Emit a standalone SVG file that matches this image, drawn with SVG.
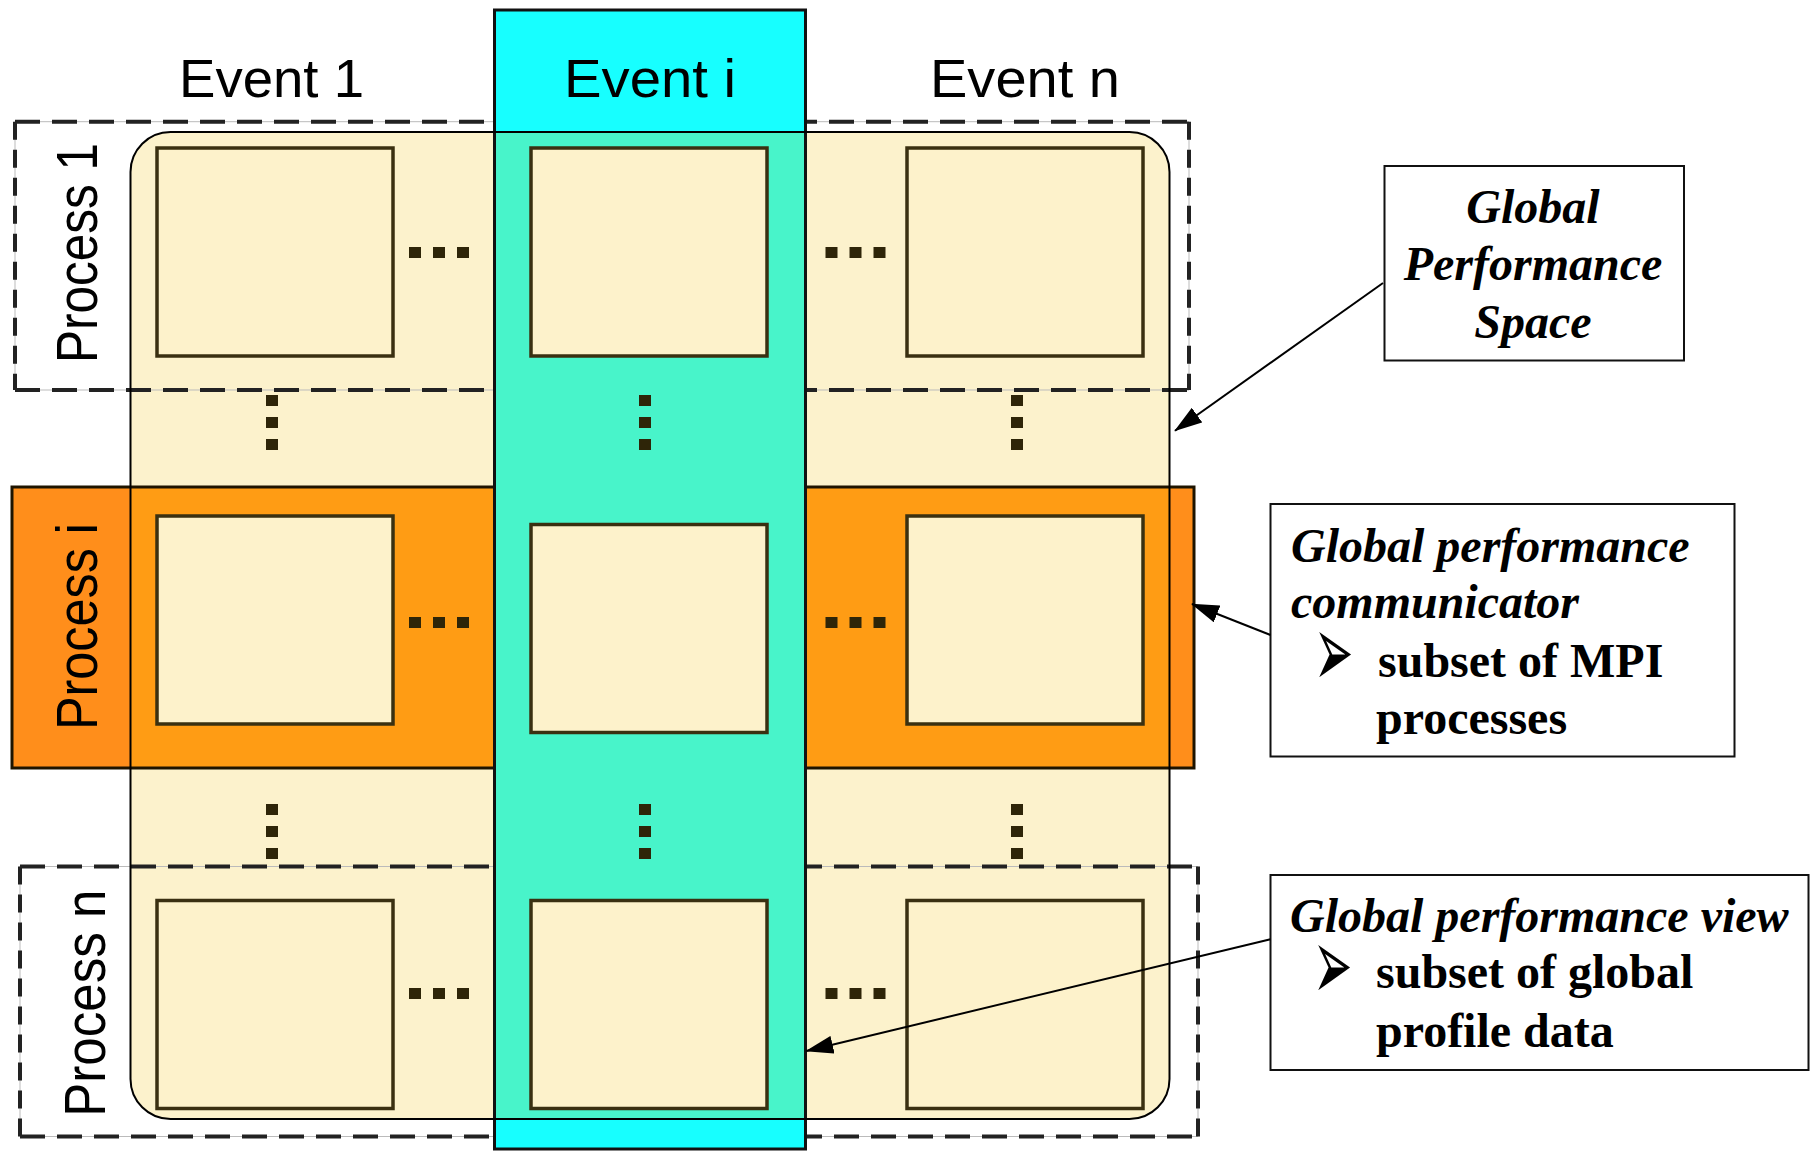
<svg xmlns="http://www.w3.org/2000/svg" width="1812" height="1151" viewBox="0 0 1812 1151">
<style>
.cell{fill:#FDF2CB;stroke:#3A3011;stroke-width:3.5}
.dot{fill:#2E2508}
.dash-h{stroke:#222;stroke-width:4;stroke-dasharray:25 12;fill:none}
.dash-v{stroke:#222;stroke-width:4;stroke-dasharray:18 10;fill:none}
.faint{stroke:#bbb;stroke-width:1;fill:none}
.lbl{font-family:"Liberation Sans",Arial,sans-serif;font-size:53px;fill:#000}
.plbl{font-family:"Liberation Sans",Arial,sans-serif;font-size:58px;fill:#000}
.note{fill:#fff;stroke:#111;stroke-width:2}
.bi{font-family:"Liberation Serif","Times New Roman",serif;font-size:48px;font-weight:bold;font-style:italic;fill:#000}
.b{font-family:"Liberation Serif","Times New Roman",serif;font-size:48px;font-weight:bold;fill:#000}
.bul{font-family:"DejaVu Sans",sans-serif;font-size:47px;fill:#000}
.conn{stroke:#000;stroke-width:2;fill:none;marker-end:url(#ah)}
</style>
<defs>
<clipPath id="space"><rect x="130.5" y="132" width="1039" height="987" rx="40"/></clipPath>
<marker id="ah" markerUnits="userSpaceOnUse" markerWidth="28" markerHeight="18" refX="27" refY="9" orient="auto"><path d="M0,0 L28,9 L0,18 z" fill="#000"/></marker>
</defs>

<g id="global-space-bg">
<rect x="130.5" y="132" width="1039" height="987" rx="40" fill="#FCF2CC"/>
</g>

<g id="process-i">
<rect x="12" y="487" width="1182" height="281" fill="#FF8E1B"/>
<rect x="12" y="487" width="1182" height="281" fill="#FF9C14" clip-path="url(#space)"/>
<rect x="12" y="487" width="1182" height="281" fill="none" stroke="#1E1400" stroke-width="3"/>
<text class="plbl" transform="translate(96.7,730) rotate(-90)" textLength="207" lengthAdjust="spacingAndGlyphs">Process i</text>
</g>

<g id="process-1">
<path class="faint" d="M15,121.7 H1189 V390 H15 Z"/>
<path class="dash-h" d="M15,121.7 H1189 M15,390 H1189"/>
<path class="dash-v" d="M15,121.7 V390 M1189,121.7 V390"/>
<text class="plbl" transform="translate(96.7,363) rotate(-90)" textLength="220" lengthAdjust="spacingAndGlyphs">Process 1</text>
</g>

<g id="process-n">
<path class="faint" d="M20,866.5 H1198 V1136.5 H20 Z"/>
<path class="dash-h" d="M20,866.5 H1198 M20,1136.5 H1198"/>
<path class="dash-v" d="M20,866.5 V1136.5 M1198,866.5 V1136.5"/>
<text class="plbl" transform="translate(105,1116.7) rotate(-90)" textLength="227" lengthAdjust="spacingAndGlyphs">Process n</text>
</g>

<g id="event-i">
<rect x="494.5" y="10" width="311" height="1139" fill="#17FFFF"/>
<rect x="494.5" y="10" width="311" height="1139" fill="#48F4CA" clip-path="url(#space)"/>
<rect x="494.5" y="10" width="311" height="1139" fill="none" stroke="#111" stroke-width="3"/>
<text class="lbl" x="564" y="96.7" textLength="172" lengthAdjust="spacingAndGlyphs">Event i</text>
</g>

<g id="global-space-outline">
<rect x="130.5" y="132" width="1039" height="987" rx="40" fill="none" stroke="#000" stroke-width="2"/>
</g>

<g id="event-1"><text class="lbl" x="179" y="96.7" textLength="185" lengthAdjust="spacingAndGlyphs">Event 1</text></g>
<g id="event-n"><text class="lbl" x="930" y="96.7" textLength="190" lengthAdjust="spacingAndGlyphs">Event n</text></g>

<g id="cells">
<rect class="cell" x="157" y="148" width="236" height="208"/>
<rect class="cell" x="531" y="148" width="236" height="208"/>
<rect class="cell" x="907" y="148" width="236" height="208"/>
<rect class="cell" x="157" y="516" width="236" height="208"/>
<rect class="cell" x="531" y="524.5" width="236" height="208"/>
<rect class="cell" x="907" y="516" width="236" height="208"/>
<rect class="cell" x="157" y="900.5" width="236" height="208"/>
<rect class="cell" x="531" y="900.5" width="236" height="208"/>
<rect class="cell" x="907" y="900.5" width="236" height="208"/>
</g>

<g id="ellipses">
<rect class="dot" x="409" y="247" width="12" height="11"/><rect class="dot" x="433" y="247" width="12" height="11"/><rect class="dot" x="457" y="247" width="12" height="11"/>
<rect class="dot" x="825.5" y="247" width="12" height="11"/><rect class="dot" x="849.5" y="247" width="12" height="11"/><rect class="dot" x="873.5" y="247" width="12" height="11"/>
<rect class="dot" x="409" y="617" width="12" height="11"/><rect class="dot" x="433" y="617" width="12" height="11"/><rect class="dot" x="457" y="617" width="12" height="11"/>
<rect class="dot" x="825.5" y="617" width="12" height="11"/><rect class="dot" x="849.5" y="617" width="12" height="11"/><rect class="dot" x="873.5" y="617" width="12" height="11"/>
<rect class="dot" x="409" y="988" width="12" height="11"/><rect class="dot" x="433" y="988" width="12" height="11"/><rect class="dot" x="457" y="988" width="12" height="11"/>
<rect class="dot" x="825.5" y="988" width="12" height="11"/><rect class="dot" x="849.5" y="988" width="12" height="11"/><rect class="dot" x="873.5" y="988" width="12" height="11"/>
<rect class="dot" x="266" y="395" width="12" height="11"/><rect class="dot" x="266" y="417" width="12" height="11"/><rect class="dot" x="266" y="439" width="12" height="11"/>
<rect class="dot" x="639" y="395" width="12" height="11"/><rect class="dot" x="639" y="417" width="12" height="11"/><rect class="dot" x="639" y="439" width="12" height="11"/>
<rect class="dot" x="1011" y="395" width="12" height="11"/><rect class="dot" x="1011" y="417" width="12" height="11"/><rect class="dot" x="1011" y="439" width="12" height="11"/>
<rect class="dot" x="266" y="804" width="12" height="11"/><rect class="dot" x="266" y="826" width="12" height="11"/><rect class="dot" x="266" y="848" width="12" height="11"/>
<rect class="dot" x="639" y="804" width="12" height="11"/><rect class="dot" x="639" y="826" width="12" height="11"/><rect class="dot" x="639" y="848" width="12" height="11"/>
<rect class="dot" x="1011" y="804" width="12" height="11"/><rect class="dot" x="1011" y="826" width="12" height="11"/><rect class="dot" x="1011" y="848" width="12" height="11"/>
</g>

<g id="note-space">
<rect class="note" x="1384.5" y="166" width="299.5" height="194.5"/>
<text class="bi" x="1533" y="222.7" text-anchor="middle">Global</text>
<text class="bi" x="1533" y="280" text-anchor="middle">Performance</text>
<text class="bi" x="1533" y="338" text-anchor="middle">Space</text>
</g>

<g id="note-communicator">
<rect class="note" x="1270.5" y="504" width="464" height="252.5"/>
<text class="bi" x="1291" y="561.7">Global performance</text>
<text class="bi" x="1291" y="618.3">communicator</text>
<text class="bul" transform="translate(1314,687) scale(1,2.2)">➢</text>
<text class="b" x="1378" y="676.7">subset of MPI</text>
<text class="b" x="1376" y="734">processes</text>
</g>

<g id="note-view">
<rect class="note" x="1270.5" y="875" width="538" height="195"/>
<text class="bi" x="1290" y="931.7">Global performance view</text>
<text class="bul" transform="translate(1313,1000) scale(1,2.2)">➢</text>
<text class="b" x="1376" y="988.3">subset of global</text>
<text class="b" x="1376" y="1046.7">profile data</text>
</g>

<g id="connectors">
<line class="conn" x1="1383" y1="283" x2="1175" y2="430.7"/>
<line class="conn" x1="1270.5" y1="635" x2="1192" y2="604"/>
<line class="conn" x1="1270.5" y1="939.3" x2="806.3" y2="1051"/>
</g>
</svg>
